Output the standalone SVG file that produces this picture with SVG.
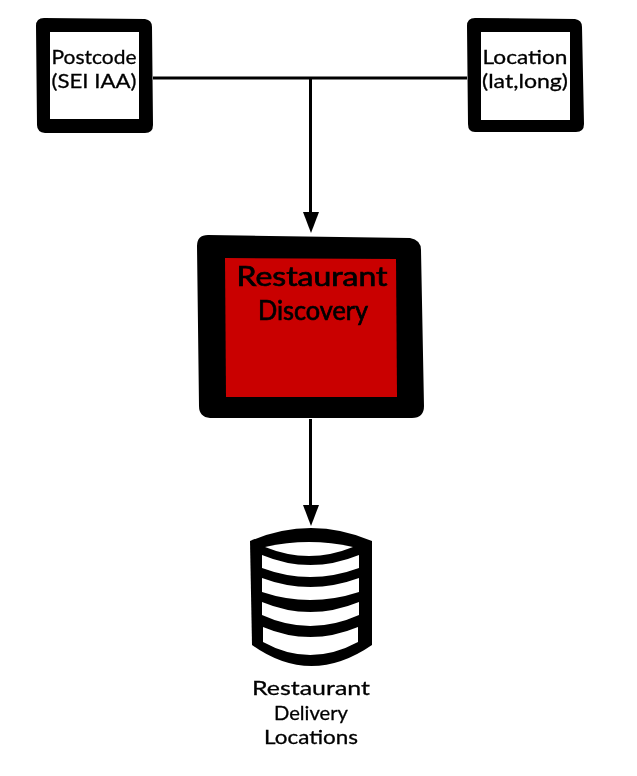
<svg xmlns="http://www.w3.org/2000/svg" width="637" height="776" viewBox="0 0 637 776">
<defs>
<filter id="soft" x="-5%" y="-5%" width="110%" height="110%"><feGaussianBlur stdDeviation="0.5"/></filter>
</defs>
<style>
.n{filter:url(#soft)}
.t{font-family:"Lato","Liberation Sans",sans-serif;fill:#000;text-anchor:middle;stroke:#000}
.s{font-size:20px;stroke-width:.3px}
.b{font-size:26px;stroke-width:.7px}
.m{font-size:20px;stroke-width:.3px}
.c{fill:none;stroke:#000;stroke-width:3px}
.h{fill:#000}
</style>
<rect width="637" height="776" fill="#fff"/>
<g id="connectors">
<path class="c" d="M153 78H467M310.500 78V214"/>
<path class="h" d="M303 212H319L311 233Z"/>
<path class="c" d="M310.500 419V507"/>
<path class="h" d="M303 505H319L311 526Z"/>
</g>
<g id="postcode" class="n">
<path d="M44 18L145 19Q152 20 152 27L153 125Q153 133 145 133L45 133Q37 132 37 125L36 26Q36 18 44 18Z" fill="#000"/>
<rect x="50" y="32" width="89" height="87" fill="#fff"/>
<text class="t s" x="94" y="64" textLength="85" lengthAdjust="spacingAndGlyphs">Postcode</text>
<text class="t s" x="94" y="88" textLength="85" lengthAdjust="spacingAndGlyphs">(SEI IAA)</text>
</g>
<g id="location" class="n">
<path d="M475 18L575 19Q582 20 582 27L584 124Q584 132 576 132L475 132Q468 132 468 124L467 26Q467 18 475 18Z" fill="#000"/>
<rect x="481" y="32" width="89" height="88" fill="#fff"/>
<text class="t s" x="525" y="64" textLength="85" lengthAdjust="spacingAndGlyphs">Location</text>
<text class="t s" x="525" y="88" textLength="86" lengthAdjust="spacingAndGlyphs">(lat,long)</text>
</g>
<g id="discovery" class="n">
<path d="M208 235L410 238Q421 240 421 250L424 406Q424 418 412 418L210 418Q199 417 199 406L197 246Q197 235 208 235Z" fill="#000"/>
<path d="M225 258L396 259L397 397L226 397Z" fill="#c90000"/>
<text class="t b" x="312" y="286" textLength="151" lengthAdjust="spacingAndGlyphs">Restaurant</text>
<text class="t b" x="313" y="320" textLength="110" lengthAdjust="spacingAndGlyphs">Discovery</text>
</g>
<g id="delivery-locations" class="n">
<path d="M250 541Q311 515 372 541L372 645Q311 687 252 645Z" fill="#000"/>
<path d="M265 547Q309 537 353 547Q309 565 265 547Z" fill="#fff"/>
<path d="M262 555Q310 575 359 555V568Q310 586 262 568Z" fill="#fff"/>
<path d="M262 578Q310 596 359 578V592Q310 608 262 592Z" fill="#fff"/>
<path d="M262 602Q310 622 359 602V615Q310 637 262 615Z" fill="#fff"/>
<path d="M263 627Q310 647 358 627V642Q310 668 263 642Z" fill="#fff"/>
<text class="t m" x="311" y="695" textLength="118" lengthAdjust="spacingAndGlyphs">Restaurant</text>
<text class="t m" x="311" y="720" textLength="74" lengthAdjust="spacingAndGlyphs">Delivery</text>
<text class="t m" x="311" y="744" textLength="94" lengthAdjust="spacingAndGlyphs">Locations</text>
</g>
</svg>
